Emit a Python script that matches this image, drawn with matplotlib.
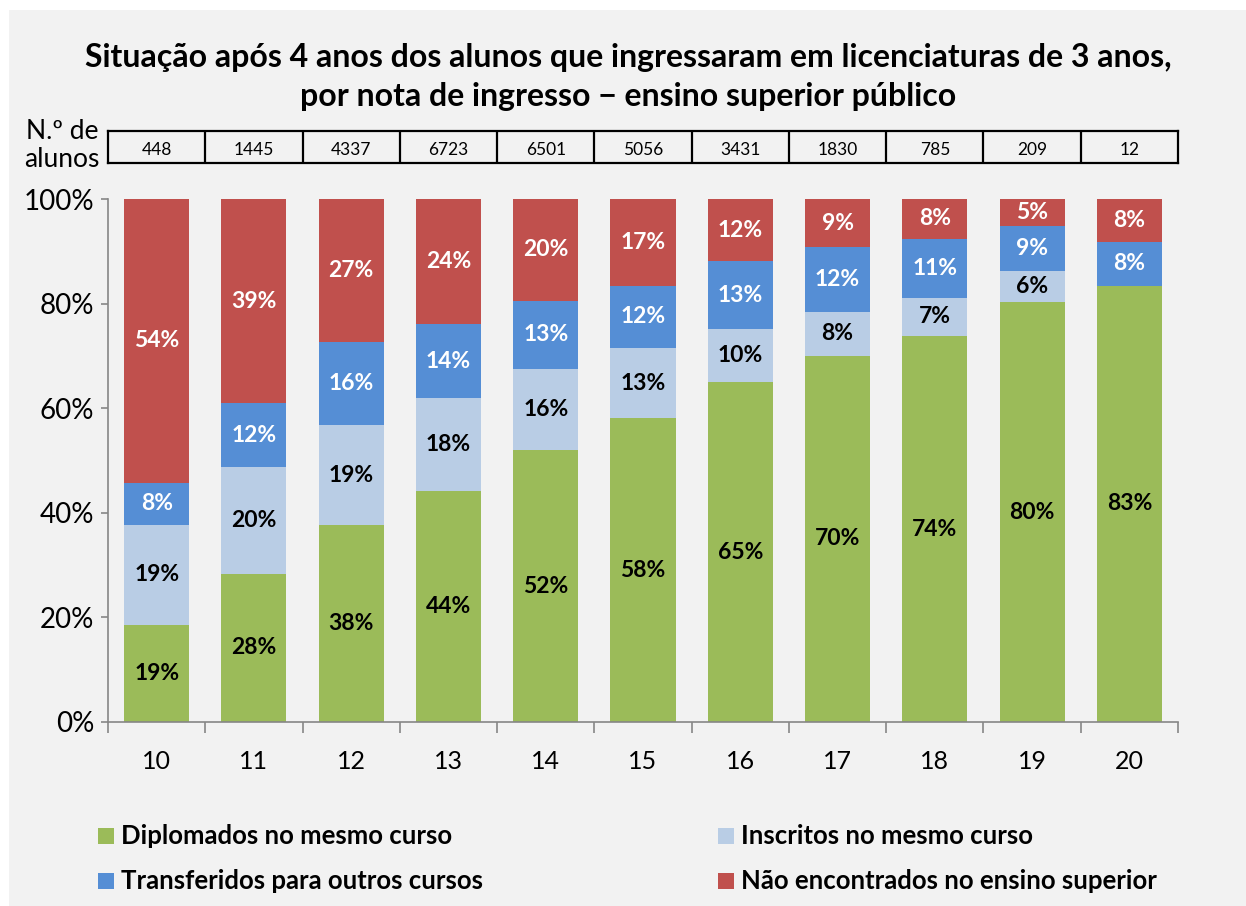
import matplotlib.pyplot as plt
import numpy as np

plt.rcParams['font.family'] = ['Lato', 'DejaVu Sans']

notas = ['10', '11', '12', '13', '14', '15', '16', '17', '18', '19', '20']
n_alunos = [448, 1445, 4337, 6723, 6501, 5056, 3431, 1830, 785, 209, 12]

diplomados = [18.6, 28.3, 37.6, 44.2, 52.0, 58.1, 65.0, 70.0, 73.8, 80.3, 83.4]
inscritos = [19.1, 20.4, 19.2, 17.7, 15.5, 13.4, 10.1, 8.4, 7.3, 5.9, 0.0]
transferidos = [8.0, 12.2, 15.9, 14.2, 13.0, 11.9, 13.0, 12.4, 11.3, 8.6, 8.4]
nao_encontrados = [54.3, 39.1, 27.3, 23.9, 19.5, 16.6, 11.9, 9.2, 7.6, 5.2, 8.2]

series = [
    ('Diplomados no mesmo curso', diplomados, '#9BBB59', 'black'),
    ('Inscritos no mesmo curso', inscritos, '#B9CDE5', 'black'),
    ('Transferidos para outros cursos', transferidos, '#558ED5', 'white'),
    ('Não encontrados no ensino superior', nao_encontrados, '#C0504D', 'white'),
]

bg = '#F2F2F2'
W, H = 1246, 906
fig = plt.figure(figsize=(W / 100, H / 100), dpi=100)
fig.patch.set_facecolor('white')
fig.patches.append(plt.Rectangle((9 / W, 0), 1 - 9 / W, 1 - 10 / H, transform=fig.transFigure,
                                 facecolor=bg, edgecolor='none', zorder=-10))

left, right, top, bottom = 108 / W, 1178 / W, 199 / H, 722 / H
ax = fig.add_axes([left, 1 - bottom, right - left, bottom - top])
ax.set_facecolor(bg)

x = np.arange(len(notas))
base = np.zeros(len(notas))
for name, vals, color, tcolor in series:
    vals = np.array(vals)
    ax.bar(x, vals, 0.67, bottom=base, color=color, edgecolor='none', label=name)
    for xi, v, b0 in zip(x, vals, base):
        if v >= 3:
            ax.text(xi, b0 + v / 2, f'{v:.0f}%', ha='center', va='center',
                    fontsize=16.5, fontweight='bold', color=tcolor)
    base = base + vals

ax.set_xlim(-0.5, len(notas) - 0.5)
ax.set_ylim(0, 100)
ax.set_yticks(range(0, 101, 20))
ax.set_yticklabels([f'{v}%' for v in range(0, 101, 20)], fontsize=20)
ax.set_xticks(np.arange(-0.5, len(notas), 1))
ax.set_xticklabels([])
ax.set_xticks(x, minor=True)
ax.set_xticklabels(notas, minor=True, fontsize=18)
ax.tick_params(axis='x', which='major', length=8, color='#868686', width=1.2)
ax.tick_params(axis='x', which='minor', length=0, pad=20)
ax.tick_params(axis='y', length=5, color='#868686', width=1.2, pad=5)
for s in ['top', 'right']:
    ax.spines[s].set_visible(False)
for s in ['left', 'bottom']:
    ax.spines[s].set_color('#868686')
    ax.spines[s].set_linewidth(1.2)

# tabela com o numero de alunos
tab = fig.add_axes([left, 1 - 163 / H, right - left, 32 / H])
tab.set_xlim(-0.5, len(notas) - 0.5)
tab.set_ylim(0, 1)
tab.set_facecolor('none')
tab.set_xticks([])
tab.set_yticks([])
for s in tab.spines.values():
    s.set_linewidth(1.6)
for xi, n in zip(x, n_alunos):
    tab.text(xi, 0.42, str(n), ha='center', va='center', fontsize=12.5)
    if xi > 0:
        tab.axvline(xi - 0.5, color='black', lw=1.6)
fig.text(62 / W, 1 - 146 / H, 'N.º de\nalunos', ha='center', va='center', fontsize=19,
         linespacing=1.15)

fig.text(0.504, 1 - 77 / H,
         'Situação após 4 anos dos alunos que ingressaram em licenciaturas de 3 anos,\n'
         'por nota de ingresso − ensino superior público',
         ha='center', va='center', fontsize=23, fontweight='bold', linespacing=1.45)

# legenda
leg_pos = [(98, 836), (98, 881), (718, 836), (718, 881)]
leg_items = [series[0], series[2], series[1], series[3]]
for (lx, ly), (name, vals, color, tcolor) in zip(leg_pos, leg_items):
    fig.patches.append(plt.Rectangle((lx / W, 1 - (ly + 8) / H), 16 / W, 16 / H,
                                     transform=fig.transFigure, facecolor=color,
                                     edgecolor='none'))
    fig.text((lx + 23) / W, 1 - ly / H, name, ha='left', va='center', fontsize=18.5,
             fontweight='bold')

fig.savefig('out.png', dpi=100, facecolor=fig.get_facecolor())
